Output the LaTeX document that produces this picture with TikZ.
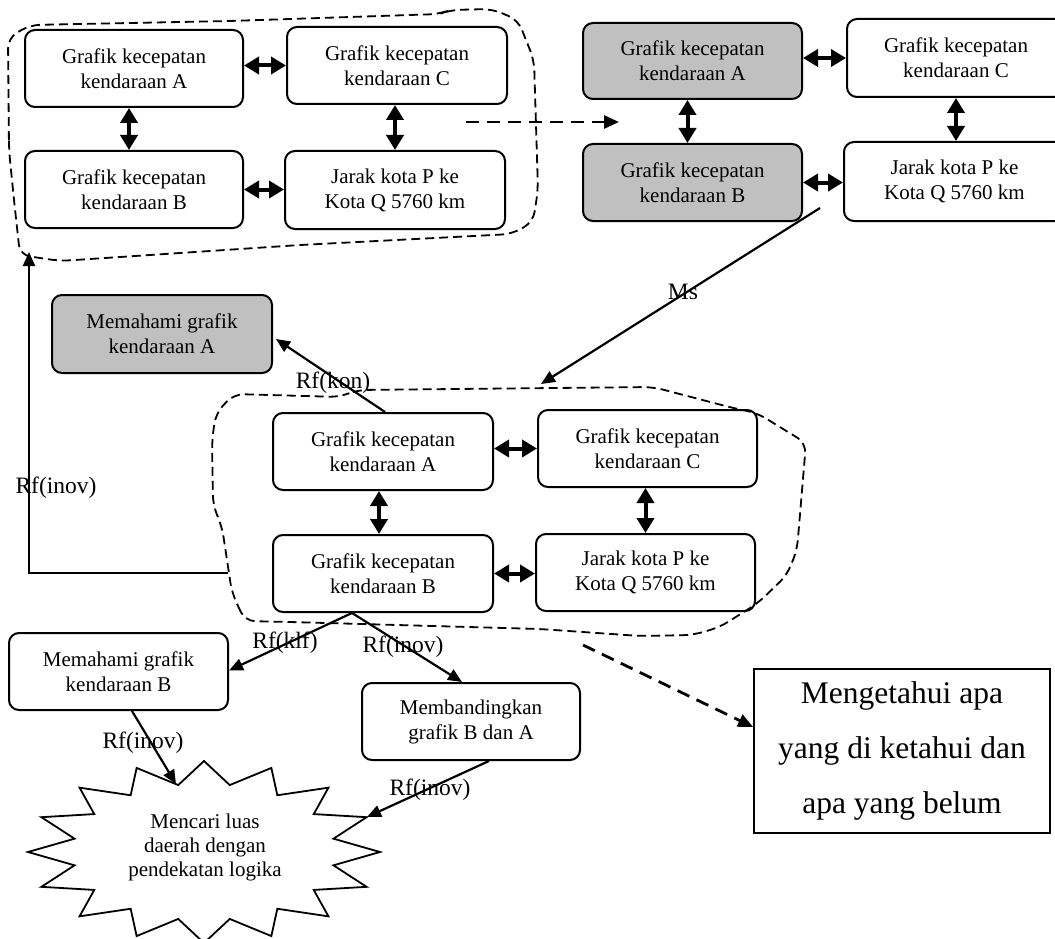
\documentclass[tikz,border=0pt]{standalone}
\usepackage{fontspec}
\setmainfont{Liberation Serif}
\usetikzlibrary{arrows.meta,calc}
\definecolor{boxgray}{HTML}{C0C0C0}
\begin{document}
\begin{tikzpicture}[x=1pt,y=-1pt,
  box/.style={draw, line width=2pt, rounded corners=10pt, align=center, inner sep=0pt, font=\fontsize{21}{25}\selectfont},
  graybox/.style={box, fill=boxgray},
  dbl/.style={line width=4pt, {Triangle[length=15pt,width=17pt]}-{Triangle[length=15pt,width=17pt]}},
  arr/.style={line width=2.2pt, -{Triangle[length=14pt,width=12pt]}},
  darr/.style={line width=2.8pt, dash pattern=on 13pt off 8pt, -{Triangle[length=15pt,width=13pt]}},
  blob/.style={line width=1.8pt, dash pattern=on 9pt off 5pt, rounded corners=10pt},
  lbl/.style={inner sep=0pt, font=\fontsize{23.5}{28}\selectfont},
  startext/.style={inner sep=0pt, align=center, font=\fontsize{21}{24}\selectfont},
]
\useasboundingbox (0,0) rectangle (1055,939);

% ---- top-left group ----
\node[box, minimum width=218pt, minimum height=77pt] (A1) at (134,68.5) {Grafik kecepatan\\kendaraan A};
\node[box, minimum width=220pt, minimum height=77pt] (C1) at (397,65.5) {Grafik kecepatan\\kendaraan C};
\node[box, minimum width=218pt, minimum height=77pt] (B1) at (134,189.5) {Grafik kecepatan\\kendaraan B};
\node[box, minimum width=220pt, minimum height=78pt] (J1) at (395,190) {Jarak kota P ke\\Kota Q 5760 km};
\draw[dbl] (A1.east |- C1.west) -- (C1.west);
\draw[dbl] ([xshift=-5pt]A1.south) -- ([xshift=-5pt]B1.north);
\draw[dbl] (C1.south -| J1.north) -- (J1.north);
\draw[dbl] (B1.east) -- (B1.east -| J1.west);
\draw[blob] (9,150) -- (8,38) -- (30,25) -- (230,21) -- (440,14) -- (450,10) -- (492,9) -- (518,20) -- (534,60) -- (538,190) -- (533,222) -- (512,234) -- (300,245) -- (60,261) -- (20,255) -- (14,200) -- cycle;

% ---- top-right group ----
\node[graybox, minimum width=219pt, minimum height=76pt] (A2) at (692.5,61) {Grafik kecepatan\\kendaraan A};
\node[box, minimum width=218pt, minimum height=78pt] (C2) at (956,58) {Grafik kecepatan\\kendaraan C};
\node[graybox, minimum width=219pt, minimum height=77pt] (B2) at (692.5,182.5) {Grafik kecepatan\\kendaraan B};
\node[box, minimum width=221pt, minimum height=79pt] (J2) at (954.5,181.5) {Jarak kota P ke\\Kota Q 5760 km};
\draw[dbl] (A2.east |- C2.west) -- (C2.west);
\draw[dbl] ([xshift=-5pt]A2.south) -- ([xshift=-5pt]B2.north);
\draw[dbl] (C2.south) -- (C2.south |- J2.north);
\draw[dbl] (B2.east) -- (B2.east -| J2.west);

\coordinate (d1s) at (466,122);
\coordinate (d1e) at (619,122);
\draw[darr] (d1s) -- (d1e);

% ---- Ms arrow ----
\coordinate (ms1) at (820,208);
\coordinate (ms2) at (541,384);
\draw[arr] (ms1) -- (ms2);
\node[lbl] (Ms) at (683,292) {Ms};

% ---- middle group ----
\node[graybox, minimum width=220pt, minimum height=78pt] (MA) at (162,334) {Memahami grafik\\kendaraan A};
\node[box, minimum width=220pt, minimum height=77pt] (A3) at (383,451.5) {Grafik kecepatan\\kendaraan A};
\node[box, minimum width=219pt, minimum height=77pt] (C3) at (647.5,448.5) {Grafik kecepatan\\kendaraan C};
\node[box, minimum width=220pt, minimum height=77pt] (B3) at (383,573.5) {Grafik kecepatan\\kendaraan B};
\node[box, minimum width=219pt, minimum height=77pt] (J3) at (645.5,572.5) {Jarak kota P ke\\Kota Q 5760 km};
\draw[dbl] (A3.east |- C3.west) -- (C3.west);
\draw[dbl] ([xshift=-4pt]A3.south) -- ([xshift=-4pt]B3.north);
\draw[dbl] ([xshift=-2pt]C3.south) -- ([xshift=-2pt]C3.south |- J3.north);
\draw[dbl] (B3.east) -- (B3.east -| J3.west);
\draw[blob] (245,621) -- (232,593) -- (222,527) -- (213,505) -- (212,440) -- (216,413) -- (234,394) -- (340,397) -- (357,390) -- (653,387) -- (733,408) -- (757,413) -- (806,443) -- (797,550) -- (787,575) -- (758,603) -- (720,627) -- (693,635) -- (640,636) -- (540,629) -- (290,622) -- cycle;

\draw[arr] ([xshift=2pt]A3.north) -- ([xshift=3pt,yshift=-5pt]MA.east);
\node[lbl] (Lkon) at (333,383) {Rf(kon)};

\coordinate (l1) at (228,573);
\coordinate (l2) at (29,252);
\draw[arr] (l1) -| (l2);
\node[lbl] (Linov1) at (56,488) {Rf(inov)};

% ---- bottom ----
\node[box, minimum width=219pt, minimum height=77pt] (MB) at (118.5,671.5) {Memahami grafik\\kendaraan B};
\node[box, minimum width=218pt, minimum height=77pt] (MBA) at (471,721.5) {Membandingkan\\grafik B dan A};
\node[draw, line width=1.8pt, minimum width=296pt, minimum height=164pt, inner sep=0pt, align=center, font=\fontsize{31.5}{55}\selectfont] (R) at (902,751) {Mengetahui apa\\yang di ketahui dan\\apa yang belum};

\draw[line width=1.8pt, line join=miter] (204,761)
  \foreach \i in {1,...,31} { -- ({204+176*(0.875+0.125*cos(\i*180))*cos(90+\i*11.25)}, {852-91*(0.875+0.125*cos(\i*180))*sin(90+\i*11.25)}) } -- cycle;
\node[startext] (S) at (205,847) {Mencari luas\\daerah dengan\\pendekatan logika};
\coordinate (s1) at (176,784);
\coordinate (s2) at (367,817);

\draw[arr] ([xshift=-31pt]B3.south) -- ([yshift=1pt]MB.east);
\node[lbl] (Lklf) at (285,643) {Rf(klf)};
\draw[arr] ([xshift=-31pt]B3.south) -- ([xshift=-9pt]MBA.north);
\node[lbl] (Linov2) at (403,647) {Rf(inov)};
\draw[arr] ([xshift=13.5pt]MB.south) -- (s1);
\node[lbl] (Linov3) at (143,743) {Rf(inov)};
\draw[arr] ([xshift=18pt]MBA.south) -- (s2);
\node[lbl] (Linov4) at (430,790) {Rf(inov)};

\coordinate (d2s) at (583,645);
\draw[darr] (d2s) -- ([yshift=24pt]R.west);
\end{tikzpicture}
\end{document}
